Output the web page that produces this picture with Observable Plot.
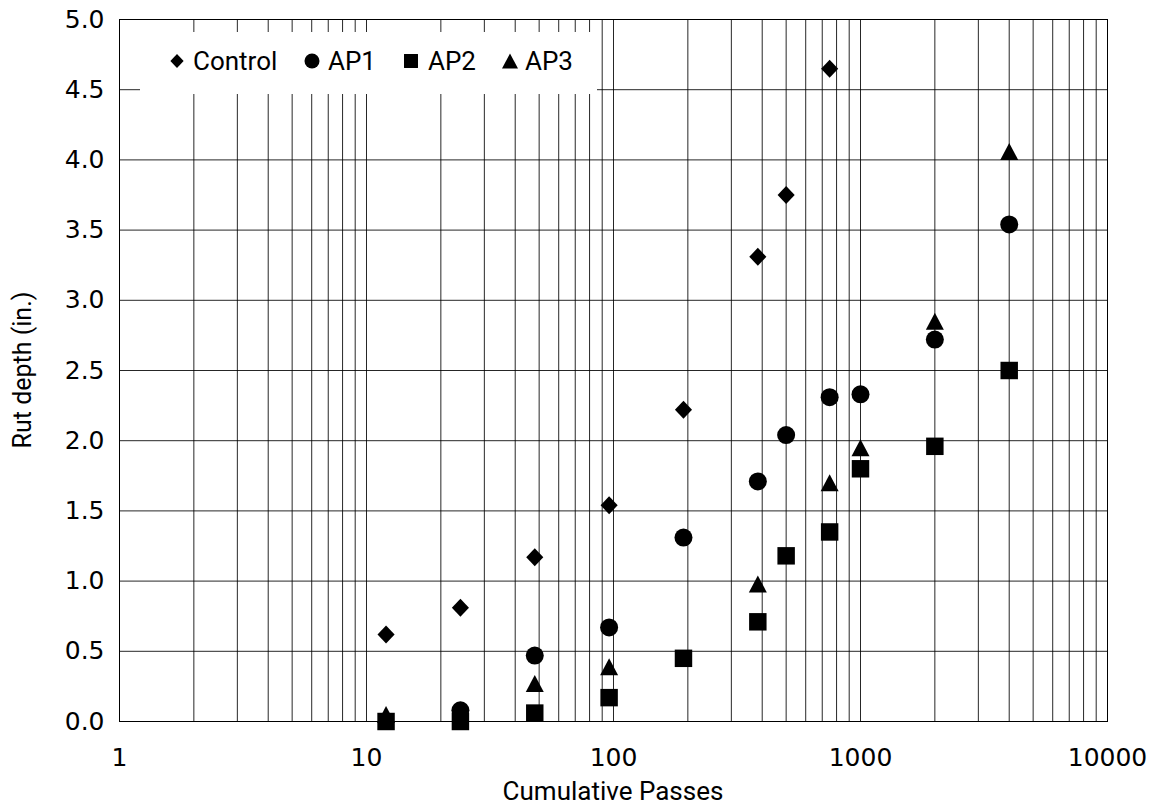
<!DOCTYPE html>
<html>
<head>
<meta charset="utf-8">
<script src="https://cdn.jsdelivr.net/npm/d3@7"></script>
<script src="https://cdn.jsdelivr.net/npm/@observablehq/plot@0.6"></script>
<style>
  html, body { margin: 0; padding: 0; background: #fff; }
  #wrap { position: relative; width: 1152px; height: 807px; }
  #wrap > svg { position: absolute; left: 0; top: 0; }
  #overlay { pointer-events: none; }
</style>
</head>
<body>
<div id="wrap"></div>
<script>
// ---- Data ----
const passes  = [12, 24, 48, 96, 192, 384, 500, 750, 1000, 2000, 4000];
const control = [0.62, 0.81, 1.17, 1.54, 2.22, 3.31, 3.75, 4.65, null, null, null];
const ap1     = [null, 0.08, 0.47, 0.67, 1.31, 1.71, 2.04, 2.31, 2.33, 2.72, 3.54];
const ap2     = [0.00, 0.00, 0.06, 0.17, 0.45, 0.71, 1.18, 1.35, 1.80, 1.96, 2.50];
const ap3     = [0.05, null, 0.27, 0.39, null, 0.98, null, 1.70, 1.95, 2.85, 4.06];
const seriesNames = ["Control", "AP1", "AP2", "AP3"];
const xTickLabels = [1, 10, 100, 1000, 10000];
const yTickValues = [0, 0.5, 1, 1.5, 2, 2.5, 3, 3.5, 4, 4.5, 5];
const xTitle = "Cumulative Passes";
const yTitle = "Rut depth (in.)";

const FONT = "Roboto, 'Liberation Sans', sans-serif";
const TICKFONT = "'DejaVu Sans', Roboto, sans-serif";

// custom marker shapes
const mk = fn => ({draw(ctx, size) { const r = Math.sqrt(size / Math.PI); fn(ctx, r); }});
const symDiamond = mk((c, r) => { c.moveTo(0, -r); c.lineTo(r * 0.95, 0); c.lineTo(0, r); c.lineTo(-r * 0.95, 0); c.closePath(); });
const symCircle = mk((c, r) => { c.moveTo(r, 0); c.arc(0, 0, r, 0, 2 * Math.PI); });
const symSquare = mk((c, r) => { const s = r * 0.97; c.rect(-s, -s, 2 * s, 2 * s); });
const symTriangle = mk((c, r) => { const h = r * 8.5 / 9; c.moveTo(0, -h); c.lineTo(r, h); c.lineTo(-r, h); c.closePath(); });

const seriesVals = [control, ap1, ap2, ap3];
const seriesSyms = [symDiamond, symCircle, symSquare, symTriangle];
const rows = [];
seriesNames.forEach((name, si) => {
  passes.forEach((p, i) => {
    const v = seriesVals[si][i];
    if (v != null) rows.push({series: name, passes: p, value: v});
  });
});

const xGrid = d3.scaleLog().domain([1, 10000]).ticks();

const chart = Plot.plot({
  width: 1152,
  height: 807,
  marginLeft: 119,
  marginRight: 45,
  marginTop: 19,
  marginBottom: 86,
  style: {fontFamily: TICKFONT, fontSize: "25px", color: "#000", background: "#fff"},
  x: {type: "log", domain: [1, 10000], ticks: xTickLabels, tickFormat: d => String(d),
      tickSize: 0, tickPadding: 27, label: null},
  y: {domain: [0, 5], ticks: yTickValues, tickFormat: d3.format(".1f"),
      tickSize: 0, tickPadding: 15, label: null},
  marks: [
    Plot.ruleX(xGrid, {stroke: "#000", strokeWidth: 1, strokeOpacity: 0.85}),
    Plot.ruleY(yTickValues, {stroke: "#000", strokeWidth: 1, strokeOpacity: 0.85}),
    Plot.frame({stroke: "#000", strokeWidth: 1}),
    ...seriesNames.map((name, si) =>
      Plot.dot(rows.filter(d => d.series === name), {
        x: "passes", y: "value", r: 9, symbol: seriesSyms[si], fill: "#000", stroke: "none"
      }))
  ]
});
document.getElementById("wrap").appendChild(chart);

// overlay: legend + axis titles
const ov = d3.select("#wrap").append("svg").attr("id", "overlay")
  .attr("width", 1152).attr("height", 807)
  .style("font-family", FONT);

const lg = ov.append("g").attr("transform", "translate(140,32)");
lg.append("rect").attr("width", 457).attr("height", 62).attr("fill", "#fff");
const legendMarkerX = [37, 172, 271, 370];
const legendTextX = [53, 188, 288, 385];
const legendSym = [
  d3.symbol().type(symDiamond).size(Math.PI * 7 * 7)(),
  d3.symbol().type(symCircle).size(Math.PI * 7.5 * 7.5)(),
  d3.symbol().type(symSquare).size(Math.PI * 7.2 * 7.2)(),
  d3.symbol().type(symTriangle).size(Math.PI * 8 * 8)()
];
seriesNames.forEach((name, i) => {
  lg.append("path").attr("d", legendSym[i]).attr("fill", "#000")
    .attr("transform", `translate(${legendMarkerX[i]},29)`);
  lg.append("text").attr("x", legendTextX[i]).attr("y", 38)
    .attr("font-size", 26).attr("fill", "#000").text(name);
});

ov.append("text").attr("x", 613).attr("y", 800).attr("text-anchor", "middle")
  .attr("font-size", 26).attr("fill", "#000").text(xTitle);
ov.append("text").attr("transform", "translate(31,370) rotate(-90)")
  .attr("text-anchor", "middle").attr("font-size", 25).attr("fill", "#000").text(yTitle);
</script>
</body>
</html>
